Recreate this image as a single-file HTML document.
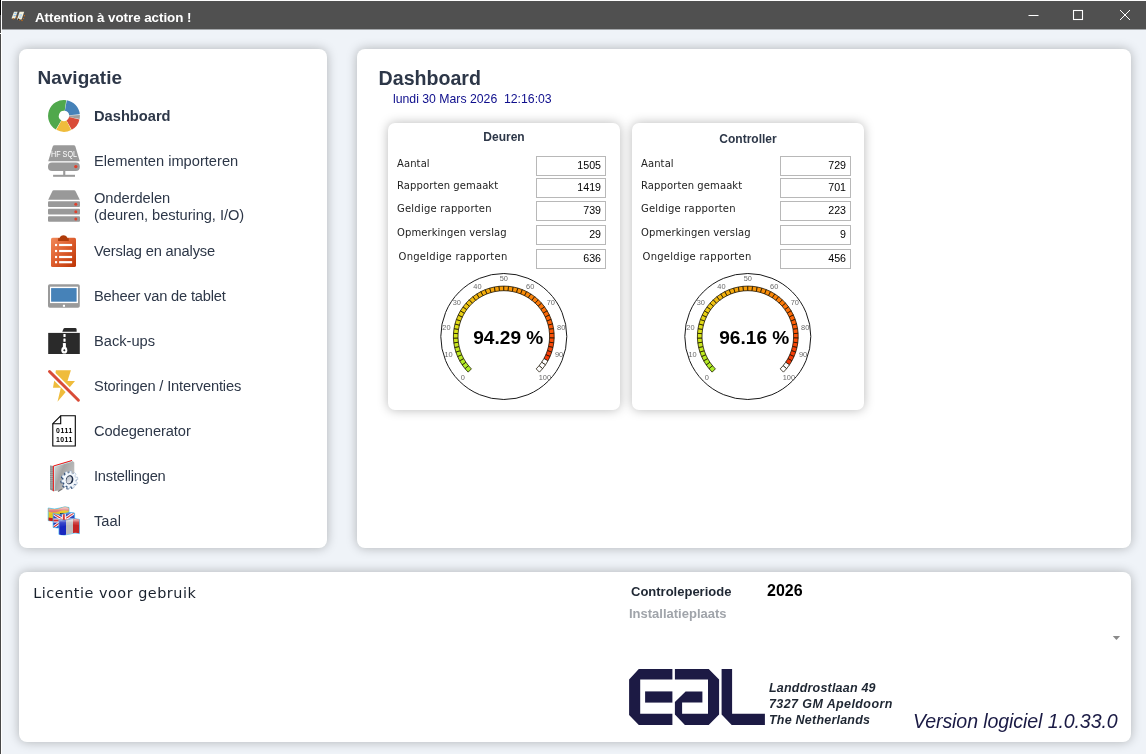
<!DOCTYPE html>
<html lang="nl"><head><meta charset="utf-8"><title>Attention à votre action !</title>
<style>
html,body{margin:0;padding:0}
body{width:1146px;height:754px;overflow:hidden;position:relative;background:#eff3f8;font-family:"Liberation Sans",sans-serif;color:#2d3748}
.abs{position:absolute}
#tb{position:absolute;left:2px;top:1px;width:1144px;height:28px;background:#505050;border-bottom:1px solid #a4a7aa}
#tb .t{position:absolute;left:33px;top:7.6px;font-size:13.4px;font-weight:bold;color:#fff;letter-spacing:-0.05px;line-height:17px;white-space:nowrap}
#lb{position:absolute;left:0;top:0;width:1px;height:754px;background:linear-gradient(#000 0,#000 15px,#484848 15px,#484848 33px,#fff 33px,#fff 34px,#484848 34px)}
#lb2{position:absolute;left:1px;top:0;width:1px;height:754px;background:#fff}
#topl{position:absolute;left:1px;top:0;width:1145px;height:1px;background:#fdfdfd}
.panel{position:absolute;background:#fff;border-radius:8px;box-shadow:0 0 11px 0 rgba(0,0,0,0.27)}
.h1{position:absolute;font-weight:bold;color:#2d3748;white-space:nowrap}
.nv{position:absolute;left:94px;font-size:14.67px;line-height:18px;white-space:nowrap;color:#2d3748}
.nv.b{font-weight:bold}
.ico{position:absolute;overflow:visible}
.card{position:absolute;background:#fff;border-radius:7px;box-shadow:0 0 11px 0 rgba(0,0,0,0.28)}
.ctitle{position:absolute;left:0;width:100%;top:6px;text-align:center;font-size:12px;font-weight:bold;color:#2d3748;line-height:16px}
.lab{position:absolute;font-family:"DejaVu Sans","Liberation Sans",sans-serif;font-size:10px;line-height:15px;color:#222;white-space:nowrap;letter-spacing:0.1px}
.box{position:absolute;width:64px;height:18px;border:1px solid #b8b8b8;background:#fff;font-size:10.67px;line-height:17px;text-align:right;color:#000;box-sizing:content-box;padding-right:4px}
.box{text-indent:0}
.gsvg{position:absolute;left:0;top:0}
.tk,.gv,.hf,.mono{font-family:"Liberation Sans",sans-serif}
.mono{font-family:"Liberation Mono","Liberation Sans",monospace}
</style></head><body>
<div id="lb"></div><div id="lb2"></div><div id="topl"></div>
<div id="tb">
<svg class="abs" style="left:9px;top:9px" width="16" height="12" viewBox="0 0 16 12"><path d="M3 1.8 H6.6 L4.2 8.6 H0.5Z" fill="#f4f1dc"/><path d="M8.6 1.8 H13.2 L10.6 9.6 H6Z" fill="#f4f1dc"/><path d="M3.4 3.4 h2.2 M2.6 5.6 h2.2" stroke="#8cc0f0" stroke-width="1.1"/><path d="M8.4 5 h2.6 M8 7 h2.2" stroke="#8cc0f0" stroke-width="1.1"/><g fill="#c86c14"><circle cx="2.4" cy="8.8" r="0.7"/><circle cx="5.6" cy="7" r="0.7"/><circle cx="8.6" cy="9.8" r="0.7"/><circle cx="11" cy="10.6" r="0.75"/><circle cx="12.5" cy="8.6" r="0.7"/><circle cx="13.4" cy="5.8" r="0.7"/></g><circle cx="7.6" cy="9.3" r="0.7" fill="#101010"/></svg>
<div class="t">Attention à votre action !</div>
<svg class="abs" style="left:1020px;top:0" width="124" height="29" viewBox="0 0 124 29"><path d="M6.5 14.5 H16.5" stroke="#fff" stroke-width="1"/><rect x="51.5" y="9.5" width="9" height="9" fill="none" stroke="#fff" stroke-width="1.1"/><path d="M98 9 L108 19 M108 9 L98 19" stroke="#fff" stroke-width="1"/></svg>
</div>

<div class="panel" style="left:19px;top:49px;width:308px;height:499px"></div>
<div class="panel" style="left:357px;top:49px;width:774px;height:499px"></div>
<div class="panel" style="left:19px;top:572px;width:1112px;height:170px"></div>

<div class="h1" style="left:37.5px;top:67px;font-size:19px;line-height:22px">Navigatie</div>
<svg class="ico" style="left:44px;top:96px" width="40" height="40" viewBox="44 96 40 40"><path d="M55.81 129.53 A15.9 15.9 0 0 1 66.21 100.15 L64.72 110.75 A5.2 5.2 0 0 0 61.32 120.36Z" fill="#50a84c"/><path d="M66.76 100.24 A15.9 15.9 0 0 1 79.81 114.24 L69.17 115.36 A5.2 5.2 0 0 0 64.90 110.78Z" fill="#4682b8"/><path d="M79.87 114.93 A15.9 15.9 0 0 1 79.61 118.93 L69.10 116.89 A5.2 5.2 0 0 0 69.19 115.58Z" fill="#9e9e9e"/><path d="M79.49 119.48 A15.9 15.9 0 0 1 71.71 129.81 L66.52 120.45 A5.2 5.2 0 0 0 69.07 117.07Z" fill="#d94c38"/><path d="M71.22 130.07 A15.9 15.9 0 0 1 56.29 129.81 L61.48 120.45 A5.2 5.2 0 0 0 66.36 120.53Z" fill="#efbc3c"/></svg>
<div class="nv b" style="top:107px;letter-spacing:0px">Dashboard</div>
<svg class="ico" style="left:44px;top:141px" width="40" height="40" viewBox="44 141 40 40"><defs><clipPath id="hfc"><path d="M54.6 145.2 H73.6 Q75 145.2 75.4 146.6 L79.8 161.3 H48.2 L52.7 146.6 Q53.1 145.2 54.6 145.2Z"/></clipPath></defs><path d="M54.6 145.2 H73.6 Q75 145.2 75.4 146.6 L79.8 161.3 H48.2 L52.7 146.6 Q53.1 145.2 54.6 145.2Z" fill="#9a9a9a"/><g clip-path="url(#hfc)"><text x="64" y="156.6" text-anchor="middle" font-size="8.6" fill="#fff" textLength="26" lengthAdjust="spacingAndGlyphs" class="hf">HF SQL</text></g><rect x="48" y="162.5" width="31.8" height="8.4" rx="4" fill="#9a9a9a"/><rect x="63.2" y="170.5" width="2.1" height="4.6" fill="#9a9a9a"/><rect x="53.1" y="174.8" width="21.9" height="2" fill="#9a9a9a"/><circle cx="75.8" cy="166.6" r="1.7" fill="#e0402c"/></svg>
<div class="nv" style="top:152px;letter-spacing:0px">Elementen importeren</div>
<svg class="ico" style="left:44px;top:186px" width="40" height="40" viewBox="44 186 40 40"><path d="M53.8 190.2 H74 Q75.2 190.2 75.7 191.4 L79.8 199.7 H48.2 L52.2 191.4 Q52.6 190.2 53.8 190.2Z" fill="#999"/><rect x="48" y="201.3" width="32" height="5.6" rx="1" fill="#999"/><rect x="48" y="208.8" width="32" height="5.6" rx="1" fill="#999"/><rect x="48" y="216.2" width="32" height="5.6" rx="1" fill="#999"/><circle cx="75.8" cy="204.3" r="1.5" fill="#e0402c"/><circle cx="75.8" cy="211.7" r="1.5" fill="#e0402c"/><circle cx="75.8" cy="219" r="1.5" fill="#e0402c"/></svg>
<div class="nv" style="top:189px;letter-spacing:-0.05px">Onderdelen</div>
<div class="nv" style="top:206px;letter-spacing:-0.06px">(deuren, besturing, I/O)</div>
<svg class="ico" style="left:44px;top:231px" width="40" height="40" viewBox="44 231 40 40"><defs><linearGradient id="cg" x1="0" y1="0" x2="1" y2="1"><stop offset="0" stop-color="#f28a5a"/><stop offset="0.5" stop-color="#dc5c2c"/><stop offset="1" stop-color="#bc3404"/></linearGradient></defs><rect x="51" y="237.7" width="25" height="29.3" rx="1.6" fill="url(#cg)"/><path d="M58.1 241 V238.2 H59.5 A4.2 4.2 0 0 1 67.5 238.2 H68.8 V241Z" fill="#b03c0a"/><rect x="55" y="243.9" width="2.1" height="2.2" fill="#fff"/><rect x="59.1" y="243.9" width="13" height="2.2" fill="#fff"/><rect x="55" y="249.9" width="2.1" height="2.2" fill="#fff"/><rect x="59.1" y="249.9" width="13" height="2.2" fill="#fff"/><rect x="55" y="255.9" width="2.1" height="2.2" fill="#fff"/><rect x="59.1" y="255.9" width="13" height="2.2" fill="#fff"/><rect x="55" y="261.1" width="2.1" height="2.2" fill="#fff"/><rect x="59.1" y="261.1" width="13" height="2.2" fill="#fff"/></svg>
<div class="nv" style="top:242px;letter-spacing:-0.16px">Verslag en analyse</div>
<svg class="ico" style="left:44px;top:276px" width="40" height="40" viewBox="44 276 40 40"><rect x="48" y="284.3" width="31.8" height="23.5" rx="1.8" fill="#9a9a9a"/><rect x="50" y="286.7" width="28" height="16.4" fill="#fff"/><rect x="51.1" y="288.1" width="25.5" height="13.6" fill="#4682b8"/><rect x="62.9" y="304.8" width="2.1" height="2" fill="#fff"/></svg>
<div class="nv" style="top:287px;letter-spacing:-0.18px">Beheer van de tablet</div>
<svg class="ico" style="left:44px;top:321px" width="40" height="40" viewBox="44 321 40 40"><path d="M62.3 331.7 L63.4 329 Q63.8 328.1 64.8 328.1 H75.2 Q76.6 328.1 76.6 329.4 V331.7Z" fill="#2a2a2a"/><rect x="48.2" y="332.9" width="31.6" height="21.1" fill="#2a2a2a"/><rect x="63.4" y="334" width="2.2" height="3" rx="0.5" fill="#fff"/><rect x="63.4" y="338.6" width="2.2" height="3.2" rx="0.5" fill="#fff"/><rect x="62.9" y="343" width="3" height="4.5" rx="0.6" fill="#fff"/><ellipse cx="64.3" cy="350.2" rx="3" ry="3.4" fill="#fff"/><path d="M64.3 348.9 L65.5 350.2 L64.3 351.5 L63.1 350.2Z" fill="#2a2a2a"/></svg>
<div class="nv" style="top:332px;letter-spacing:0px">Back-ups</div>
<svg class="ico" style="left:44px;top:366px" width="40" height="40" viewBox="44 366 40 40"><path d="M55.9 370.2 H70.9 L67.5 381.1 H75 L57.5 401.8 L60.8 387.7 H53Z" fill="#efbc3c"/><path d="M49.5 371.5 L78.4 400.2" stroke="#fff" stroke-width="6.4" stroke-linecap="butt"/><path d="M49.5 371.5 L78.4 400.2" stroke="#d94c38" stroke-width="3" stroke-linecap="round"/></svg>
<div class="nv" style="top:377px;letter-spacing:-0.15px">Storingen / Interventies</div>
<svg class="ico" style="left:44px;top:411px" width="40" height="40" viewBox="44 411 40 40"><path d="M60.7 415.8 H75.3 V446 H52.8 V423.7Z" fill="#fff" stroke="#000" stroke-width="1.1"/><path d="M60.7 415.8 V423.7 H52.8" fill="none" stroke="#000" stroke-width="1.1"/><text x="64.2" y="433.3" text-anchor="middle" font-size="6.9" font-weight="bold" class="hf" textLength="16.2" lengthAdjust="spacing">0111</text><text x="64.2" y="441.7" text-anchor="middle" font-size="6.9" font-weight="bold" class="hf" textLength="16.2" lengthAdjust="spacing">1011</text></svg>
<div class="nv" style="top:422px;letter-spacing:-0.08px">Codegenerator</div>
<svg class="ico" style="left:44px;top:456px" width="40" height="40" viewBox="44 456 40 40"><defs><linearGradient id="sg" x1="0" y1="0" x2="1" y2="0.6"><stop offset="0" stop-color="#e6e6e6"/><stop offset="0.45" stop-color="#a4a4a4"/><stop offset="1" stop-color="#c4c4c4"/></linearGradient><linearGradient id="hg" x1="0" y1="0" x2="1" y2="1"><stop offset="0" stop-color="#b8bcc4"/><stop offset="1" stop-color="#eceef2"/></linearGradient></defs><path d="M53.5 466 L72 460.5 L74.3 462.4 V478 L62 490 L53.5 491.2Z" fill="url(#sg)"/><path d="M50 465.6 L53.5 466 V491.2 L50 489.4Z" fill="#8a8a8a"/><path d="M50 467.0 H53.3" stroke="#b8b8b8" stroke-width="0.7"/><path d="M50 468.9 H53.3" stroke="#b8b8b8" stroke-width="0.7"/><path d="M50 470.8 H53.3" stroke="#b8b8b8" stroke-width="0.7"/><path d="M50 472.7 H53.3" stroke="#b8b8b8" stroke-width="0.7"/><path d="M50 474.6 H53.3" stroke="#b8b8b8" stroke-width="0.7"/><path d="M50 476.5 H53.3" stroke="#b8b8b8" stroke-width="0.7"/><path d="M50 478.4 H53.3" stroke="#b8b8b8" stroke-width="0.7"/><path d="M50 480.3 H53.3" stroke="#b8b8b8" stroke-width="0.7"/><path d="M50 482.2 H53.3" stroke="#b8b8b8" stroke-width="0.7"/><path d="M50 484.1 H53.3" stroke="#b8b8b8" stroke-width="0.7"/><path d="M50 486.0 H53.3" stroke="#b8b8b8" stroke-width="0.7"/><path d="M50 487.9 H53.3" stroke="#b8b8b8" stroke-width="0.7"/><path d="M54.3 490.6 V466.6 L72.2 461.3" fill="none" stroke="#c8f0f4" stroke-width="0.9"/><path d="M53.4 491.2 V466 L72 460.5" fill="none" stroke="#f01818" stroke-width="1"/><path d="M58 491.5 L62 489" stroke="#777" stroke-width="1.2"/><path d="M68.16 473.72 L68.67 471.60 L70.81 471.93 L70.77 474.12 L71.96 474.75 L73.53 473.37 L75.08 475.00 L73.86 476.74 L74.49 478.02 L76.50 477.89 L76.87 480.21 L74.94 480.84 L74.76 482.27 L76.45 483.46 L75.50 485.57 L73.60 484.85 L72.68 485.89 L73.41 487.93 L71.50 489.03 L70.35 487.23 L69.04 487.48 L68.53 489.60 L66.39 489.27 L66.43 487.08 L65.24 486.45 L63.67 487.83 L62.12 486.20 L63.34 484.46 L62.71 483.18 L60.70 483.31 L60.33 480.99 L62.26 480.36 L62.44 478.93 L60.75 477.74 L61.70 475.63 L63.60 476.35 L64.52 475.31 L63.79 473.27 L65.70 472.17 L66.85 473.97Z" fill="#2c4870"/><path d="M69.16 472.92 L69.67 470.80 L71.81 471.13 L71.77 473.32 L72.96 473.95 L74.53 472.57 L76.08 474.20 L74.86 475.94 L75.49 477.22 L77.50 477.09 L77.87 479.41 L75.94 480.04 L75.76 481.47 L77.45 482.66 L76.50 484.77 L74.60 484.05 L73.68 485.09 L74.41 487.13 L72.50 488.23 L71.35 486.43 L70.04 486.68 L69.53 488.80 L67.39 488.47 L67.43 486.28 L66.24 485.65 L64.67 487.03 L63.12 485.40 L64.34 483.66 L63.71 482.38 L61.70 482.51 L61.33 480.19 L63.26 479.56 L63.44 478.13 L61.75 476.94 L62.70 474.83 L64.60 475.55 L65.52 474.51 L64.79 472.47 L66.70 471.37 L67.85 473.17Z" fill="#f2f6fb" stroke="#8fa6c4" stroke-width="0.5"/><ellipse cx="69.6" cy="479.8" rx="3.7" ry="4.6" transform="rotate(15 69.6 479.8)" fill="#1c2c48"/><ellipse cx="69.1" cy="480.0" rx="2.6" ry="3.7" transform="rotate(15 69.6 479.8)" fill="url(#hg)"/></svg>
<div class="nv" style="top:467px;letter-spacing:-0.22px">Instellingen</div>
<svg class="ico" style="left:44px;top:501px" width="40" height="40" viewBox="44 501 40 40"><defs><clipPath id="ukc"><path d="M53.1 513.6 Q60 515.4 65 513.4 Q70 511.6 74.6 513 V526.6 Q69 525 64 527 Q59 529 53.1 527.4Z"/></clipPath><linearGradient id="gl" x1="0" y1="0" x2="0" y2="1"><stop offset="0" stop-color="#fff" stop-opacity="0.75"/><stop offset="0.45" stop-color="#fff" stop-opacity="0.15"/><stop offset="1" stop-color="#fff" stop-opacity="0"/></linearGradient></defs><path d="M48.2 508 Q55 510 60 508 Q65 506 69 507.5 V520 Q64 518.6 59 520.4 Q54 522 48.2 520.6Z" fill="#e6c41c" stroke="#38b8f8" stroke-width="0.7"/><path d="M48.6 508.4 Q55 510.4 60 508.4 Q65 506.4 68.6 507.9 V511 Q64 509.4 59 511.4 Q54 513.2 48.6 511.8Z" fill="#dc6868"/><path d="M48.6 517.6 Q54 519 59 517.4 V520.2 Q54 521.8 48.6 520.4Z" fill="#c41c1c"/><rect x="60" y="513" width="4" height="2.4" fill="#3a2c10"/><path d="M48.6 508.4 Q55 510.4 60 508.4 Q65 506.4 68.6 507.9 V513 Q60 511 48.6 515Z" fill="url(#gl)"/><g clip-path="url(#ukc)"><rect x="53" y="511" width="22" height="19" fill="#2438b4"/><path d="M53 513.5 L74.6 527 M53 527.5 L74.6 512.5" stroke="#fff" stroke-width="3"/><path d="M53 513.5 L74.6 527 M53 527.5 L74.6 512.5" stroke="#d42c2c" stroke-width="1.1"/><path d="M63.8 511 V530 M53 520.4 H75" stroke="#fff" stroke-width="4"/><path d="M63.8 511 V530 M53 520.4 H75" stroke="#d42c2c" stroke-width="2"/><rect x="53" y="511" width="22" height="8" fill="url(#gl)"/></g><path d="M53.1 513.6 Q60 515.4 65 513.4 Q70 511.6 74.6 513 V526.6 Q69 525 64 527 Q59 529 53.1 527.4Z" fill="none" stroke="#38b8f8" stroke-width="0.7"/><path d="M58.9 519.6 Q66 521.4 71 519.4 Q75 518 79.5 519.4 V533.6 Q75 532.2 70 534 Q64 536 58.9 534.4Z" fill="#f0f0f0" stroke="#38b8f8" stroke-width="0.7"/><path d="M59.2 520 Q63 520.8 66 520.4 V534.8 Q62 535.6 59.2 534.2Z" fill="#1828c0"/><path d="M66 520.4 Q70 520.2 73 519 V533 Q70 534.2 66 534.8Z" fill="#bdbdbd"/><path d="M73 519 Q76 518.4 79.2 519.6 V533.2 Q76 532.4 73 533Z" fill="#c42424"/><path d="M59.2 520 Q66 521.6 71 519.6 Q75 518.2 79.2 519.6 V525 Q70 523 59.2 527.4Z" fill="url(#gl)"/></svg>
<div class="nv" style="top:512px;letter-spacing:0px">Taal</div>

<div class="h1" style="left:378.6px;top:66px;font-size:19.6px;line-height:24px">Dashboard</div>
<div class="abs" style="left:393px;top:92px;font-size:12.25px;line-height:14px;color:#0e0e8c;white-space:pre">lundi 30 Mars 2026  12:16:03</div>

<div class="card" style="left:388px;top:123px;width:232px;height:287px">
<div class="ctitle" style="top:6px">Deuren</div>
<div class="lab" style="left:9px;top:33px;letter-spacing:0.1px">Aantal</div>
<div class="box" style="left:148px;top:33px;width:64px">1505</div>
<div class="lab" style="left:9px;top:55px;letter-spacing:0.1px">Rapporten gemaakt</div>
<div class="box" style="left:148px;top:55px;width:64px">1419</div>
<div class="lab" style="left:9px;top:78px;letter-spacing:0.22px">Geldige rapporten</div>
<div class="box" style="left:148px;top:78px;width:64px">739</div>
<div class="lab" style="left:9px;top:102px;letter-spacing:0.1px">Opmerkingen verslag</div>
<div class="box" style="left:148px;top:102px;width:64px">29</div>
<div class="lab" style="left:10.5px;top:126px;letter-spacing:0.27px">Ongeldige rapporten</div>
<div class="box" style="left:148px;top:126px;width:64px">636</div>
<svg class="gsvg" width="232" height="287" viewBox="0 0 232 287">
<circle cx="115.80000000000001" cy="213.5" r="63.0" fill="#fff" stroke="#1a1a1a" stroke-width="1"/>
<path d="M80.16 249.14 L76.97 245.63 L80.51 242.69 L83.41 245.89Z" fill="#aced27" stroke="#181000" stroke-opacity="0.9" stroke-width="0.85"/>
<path d="M76.97 245.63 L74.12 241.83 L77.92 239.24 L80.51 242.69Z" fill="#b0ec25" stroke="#181000" stroke-opacity="0.9" stroke-width="0.85"/>
<path d="M74.12 241.83 L71.63 237.78 L75.67 235.56 L77.92 239.24Z" fill="#b4eb23" stroke="#181000" stroke-opacity="0.9" stroke-width="0.85"/>
<path d="M71.63 237.78 L69.55 233.52 L73.77 231.69 L75.67 235.56Z" fill="#b8ea21" stroke="#181000" stroke-opacity="0.9" stroke-width="0.85"/>
<path d="M69.55 233.52 L67.87 229.07 L72.24 227.65 L73.77 231.69Z" fill="#bce91f" stroke="#181000" stroke-opacity="0.9" stroke-width="0.85"/>
<path d="M67.87 229.07 L66.61 224.49 L71.10 223.49 L72.24 227.65Z" fill="#c1e71d" stroke="#181000" stroke-opacity="0.9" stroke-width="0.85"/>
<path d="M66.61 224.49 L65.80 219.82 L70.36 219.24 L71.10 223.49Z" fill="#c8e61c" stroke="#181000" stroke-opacity="0.9" stroke-width="0.85"/>
<path d="M65.80 219.82 L65.42 215.08 L70.02 214.94 L70.36 219.24Z" fill="#cee51b" stroke="#181000" stroke-opacity="0.9" stroke-width="0.85"/>
<path d="M65.42 215.08 L65.50 210.34 L70.09 210.62 L70.02 214.94Z" fill="#d4e41a" stroke="#181000" stroke-opacity="0.9" stroke-width="0.85"/>
<path d="M65.50 210.34 L66.02 205.62 L70.56 206.34 L70.09 210.62Z" fill="#dbe319" stroke="#181000" stroke-opacity="0.9" stroke-width="0.85"/>
<path d="M66.02 205.62 L66.98 200.97 L71.44 202.11 L70.56 206.34Z" fill="#dfdf17" stroke="#181000" stroke-opacity="0.9" stroke-width="0.85"/>
<path d="M66.98 200.97 L68.38 196.43 L72.71 197.99 L71.44 202.11Z" fill="#e2da16" stroke="#181000" stroke-opacity="0.9" stroke-width="0.85"/>
<path d="M68.38 196.43 L70.20 192.04 L74.36 194.00 L72.71 197.99Z" fill="#e5d515" stroke="#181000" stroke-opacity="0.9" stroke-width="0.85"/>
<path d="M70.20 192.04 L72.42 187.84 L76.38 190.19 L74.36 194.00Z" fill="#e8d014" stroke="#181000" stroke-opacity="0.9" stroke-width="0.85"/>
<path d="M72.42 187.84 L75.03 183.88 L78.75 186.58 L76.38 190.19Z" fill="#ebcb13" stroke="#181000" stroke-opacity="0.9" stroke-width="0.85"/>
<path d="M75.03 183.88 L77.99 180.17 L81.44 183.21 L78.75 186.58Z" fill="#edc611" stroke="#181000" stroke-opacity="0.9" stroke-width="0.85"/>
<path d="M77.99 180.17 L81.30 176.76 L84.45 180.11 L81.44 183.21Z" fill="#eec110" stroke="#181000" stroke-opacity="0.9" stroke-width="0.85"/>
<path d="M81.30 176.76 L84.91 173.68 L87.73 177.31 L84.45 180.11Z" fill="#f0bc0f" stroke="#181000" stroke-opacity="0.9" stroke-width="0.85"/>
<path d="M84.91 173.68 L88.79 170.95 L91.26 174.83 L87.73 177.31Z" fill="#f2b70e" stroke="#181000" stroke-opacity="0.9" stroke-width="0.85"/>
<path d="M88.79 170.95 L92.92 168.59 L95.01 172.69 L91.26 174.83Z" fill="#f3b20d" stroke="#181000" stroke-opacity="0.9" stroke-width="0.85"/>
<path d="M92.92 168.59 L97.25 166.64 L98.94 170.92 L95.01 172.69Z" fill="#f4ae0c" stroke="#181000" stroke-opacity="0.9" stroke-width="0.85"/>
<path d="M97.25 166.64 L101.74 165.10 L103.02 169.52 L98.94 170.92Z" fill="#f5aa0b" stroke="#181000" stroke-opacity="0.9" stroke-width="0.85"/>
<path d="M101.74 165.10 L106.36 163.99 L107.22 168.51 L103.02 169.52Z" fill="#f6a60b" stroke="#181000" stroke-opacity="0.9" stroke-width="0.85"/>
<path d="M106.36 163.99 L111.06 163.32 L111.49 167.90 L107.22 168.51Z" fill="#f7a20b" stroke="#181000" stroke-opacity="0.9" stroke-width="0.85"/>
<path d="M111.06 163.32 L115.80 163.10 L115.80 167.70 L111.49 167.90Z" fill="#f89e0a" stroke="#181000" stroke-opacity="0.9" stroke-width="0.85"/>
<path d="M115.80 163.10 L120.54 163.32 L120.11 167.90 L115.80 167.70Z" fill="#f89a0a" stroke="#181000" stroke-opacity="0.9" stroke-width="0.85"/>
<path d="M120.54 163.32 L125.24 163.99 L124.38 168.51 L120.11 167.90Z" fill="#f99709" stroke="#181000" stroke-opacity="0.9" stroke-width="0.85"/>
<path d="M125.24 163.99 L129.86 165.10 L128.58 169.52 L124.38 168.51Z" fill="#f99309" stroke="#181000" stroke-opacity="0.9" stroke-width="0.85"/>
<path d="M129.86 165.10 L134.35 166.64 L132.66 170.92 L128.58 169.52Z" fill="#f98f09" stroke="#181000" stroke-opacity="0.9" stroke-width="0.85"/>
<path d="M134.35 166.64 L138.68 168.59 L136.59 172.69 L132.66 170.92Z" fill="#fa8c08" stroke="#181000" stroke-opacity="0.9" stroke-width="0.85"/>
<path d="M138.68 168.59 L142.81 170.95 L140.34 174.83 L136.59 172.69Z" fill="#fa8708" stroke="#181000" stroke-opacity="0.9" stroke-width="0.85"/>
<path d="M142.81 170.95 L146.69 173.68 L143.87 177.31 L140.34 174.83Z" fill="#fb8207" stroke="#181000" stroke-opacity="0.9" stroke-width="0.85"/>
<path d="M146.69 173.68 L150.30 176.76 L147.15 180.11 L143.87 177.31Z" fill="#fb7d07" stroke="#181000" stroke-opacity="0.9" stroke-width="0.85"/>
<path d="M150.30 176.76 L153.61 180.17 L150.16 183.21 L147.15 180.11Z" fill="#fb7807" stroke="#181000" stroke-opacity="0.9" stroke-width="0.85"/>
<path d="M153.61 180.17 L156.57 183.88 L152.85 186.58 L150.16 183.21Z" fill="#fc7306" stroke="#181000" stroke-opacity="0.9" stroke-width="0.85"/>
<path d="M156.57 183.88 L159.18 187.84 L155.22 190.19 L152.85 186.58Z" fill="#fc6e06" stroke="#181000" stroke-opacity="0.9" stroke-width="0.85"/>
<path d="M159.18 187.84 L161.40 192.04 L157.24 194.00 L155.22 190.19Z" fill="#fc6906" stroke="#181000" stroke-opacity="0.9" stroke-width="0.85"/>
<path d="M161.40 192.04 L163.22 196.43 L158.89 197.99 L157.24 194.00Z" fill="#fc6406" stroke="#181000" stroke-opacity="0.9" stroke-width="0.85"/>
<path d="M163.22 196.43 L164.62 200.97 L160.16 202.11 L158.89 197.99Z" fill="#fc5f06" stroke="#181000" stroke-opacity="0.9" stroke-width="0.85"/>
<path d="M164.62 200.97 L165.58 205.62 L161.04 206.34 L160.16 202.11Z" fill="#fc5a06" stroke="#181000" stroke-opacity="0.9" stroke-width="0.85"/>
<path d="M165.58 205.62 L166.10 210.34 L161.51 210.62 L161.04 206.34Z" fill="#fc5606" stroke="#181000" stroke-opacity="0.9" stroke-width="0.85"/>
<path d="M166.10 210.34 L166.18 215.08 L161.58 214.94 L161.51 210.62Z" fill="#fb5107" stroke="#181000" stroke-opacity="0.9" stroke-width="0.85"/>
<path d="M166.18 215.08 L165.80 219.82 L161.24 219.24 L161.58 214.94Z" fill="#fa4c07" stroke="#181000" stroke-opacity="0.9" stroke-width="0.85"/>
<path d="M165.80 219.82 L164.99 224.49 L160.50 223.49 L161.24 219.24Z" fill="#f94707" stroke="#181000" stroke-opacity="0.9" stroke-width="0.85"/>
<path d="M164.99 224.49 L163.73 229.07 L159.36 227.65 L160.50 223.49Z" fill="#f84208" stroke="#181000" stroke-opacity="0.9" stroke-width="0.85"/>
<path d="M163.73 229.07 L162.05 233.52 L157.83 231.69 L159.36 227.65Z" fill="#f73e08" stroke="#181000" stroke-opacity="0.9" stroke-width="0.85"/>
<path d="M162.05 233.52 L159.97 237.78 L155.93 235.56 L157.83 231.69Z" fill="#f63b09" stroke="#181000" stroke-opacity="0.9" stroke-width="0.85"/>
<path d="M159.97 237.78 L157.48 241.83 L153.68 239.24 L155.93 235.56Z" fill="#ffffff" stroke="#181000" stroke-opacity="0.9" stroke-width="0.85"/>
<path d="M157.48 241.83 L154.63 245.63 L151.09 242.69 L153.68 239.24Z" fill="#ffffff" stroke="#181000" stroke-opacity="0.9" stroke-width="0.85"/>
<path d="M154.63 245.63 L151.44 249.14 L148.19 245.89 L151.09 242.69Z" fill="#ffffff" stroke="#181000" stroke-opacity="0.9" stroke-width="0.85"/>
<text x="74.7" y="257.3" text-anchor="middle" font-size="7.4" fill="#6a6a6a" class="tk">0</text>
<text x="60.5" y="234.2" text-anchor="middle" font-size="7.4" fill="#6a6a6a" class="tk">10</text>
<text x="58.4" y="207.1" text-anchor="middle" font-size="7.4" fill="#6a6a6a" class="tk">20</text>
<text x="68.8" y="182.0" text-anchor="middle" font-size="7.4" fill="#6a6a6a" class="tk">30</text>
<text x="89.4" y="165.7" text-anchor="middle" font-size="7.4" fill="#6a6a6a" class="tk">40</text>
<text x="115.8" y="158.1" text-anchor="middle" font-size="7.4" fill="#6a6a6a" class="tk">50</text>
<text x="142.2" y="165.7" text-anchor="middle" font-size="7.4" fill="#6a6a6a" class="tk">60</text>
<text x="162.8" y="182.0" text-anchor="middle" font-size="7.4" fill="#6a6a6a" class="tk">70</text>
<text x="173.2" y="207.1" text-anchor="middle" font-size="7.4" fill="#6a6a6a" class="tk">80</text>
<text x="171.1" y="234.2" text-anchor="middle" font-size="7.4" fill="#6a6a6a" class="tk">90</text>
<text x="156.9" y="257.3" text-anchor="middle" font-size="7.4" fill="#6a6a6a" class="tk">100</text>
<text x="120.30000000000001" y="221.1" text-anchor="middle" font-size="19.1" font-weight="bold" fill="#000" class="gv">94.29 %</text>
</svg>
</div>
<div class="card" style="left:632px;top:123px;width:232px;height:287px">
<div class="ctitle" style="top:8px">Controller</div>
<div class="lab" style="left:9px;top:33px;letter-spacing:0.1px">Aantal</div>
<div class="box" style="left:148px;top:33px;width:65px">729</div>
<div class="lab" style="left:9px;top:55px;letter-spacing:0.1px">Rapporten gemaakt</div>
<div class="box" style="left:148px;top:55px;width:65px">701</div>
<div class="lab" style="left:9px;top:78px;letter-spacing:0.22px">Geldige rapporten</div>
<div class="box" style="left:148px;top:78px;width:65px">223</div>
<div class="lab" style="left:9px;top:102px;letter-spacing:0.1px">Opmerkingen verslag</div>
<div class="box" style="left:148px;top:102px;width:65px">9</div>
<div class="lab" style="left:10.5px;top:126px;letter-spacing:0.27px">Ongeldige rapporten</div>
<div class="box" style="left:148px;top:126px;width:65px">456</div>
<svg class="gsvg" width="232" height="287" viewBox="0 0 232 287">
<circle cx="115.80000000000001" cy="213.5" r="63.0" fill="#fff" stroke="#1a1a1a" stroke-width="1"/>
<path d="M80.16 249.14 L76.97 245.63 L80.51 242.69 L83.41 245.89Z" fill="#aced27" stroke="#181000" stroke-opacity="0.9" stroke-width="0.85"/>
<path d="M76.97 245.63 L74.12 241.83 L77.92 239.24 L80.51 242.69Z" fill="#b0ec25" stroke="#181000" stroke-opacity="0.9" stroke-width="0.85"/>
<path d="M74.12 241.83 L71.63 237.78 L75.67 235.56 L77.92 239.24Z" fill="#b4eb23" stroke="#181000" stroke-opacity="0.9" stroke-width="0.85"/>
<path d="M71.63 237.78 L69.55 233.52 L73.77 231.69 L75.67 235.56Z" fill="#b8ea21" stroke="#181000" stroke-opacity="0.9" stroke-width="0.85"/>
<path d="M69.55 233.52 L67.87 229.07 L72.24 227.65 L73.77 231.69Z" fill="#bce91f" stroke="#181000" stroke-opacity="0.9" stroke-width="0.85"/>
<path d="M67.87 229.07 L66.61 224.49 L71.10 223.49 L72.24 227.65Z" fill="#c1e71d" stroke="#181000" stroke-opacity="0.9" stroke-width="0.85"/>
<path d="M66.61 224.49 L65.80 219.82 L70.36 219.24 L71.10 223.49Z" fill="#c8e61c" stroke="#181000" stroke-opacity="0.9" stroke-width="0.85"/>
<path d="M65.80 219.82 L65.42 215.08 L70.02 214.94 L70.36 219.24Z" fill="#cee51b" stroke="#181000" stroke-opacity="0.9" stroke-width="0.85"/>
<path d="M65.42 215.08 L65.50 210.34 L70.09 210.62 L70.02 214.94Z" fill="#d4e41a" stroke="#181000" stroke-opacity="0.9" stroke-width="0.85"/>
<path d="M65.50 210.34 L66.02 205.62 L70.56 206.34 L70.09 210.62Z" fill="#dbe319" stroke="#181000" stroke-opacity="0.9" stroke-width="0.85"/>
<path d="M66.02 205.62 L66.98 200.97 L71.44 202.11 L70.56 206.34Z" fill="#dfdf17" stroke="#181000" stroke-opacity="0.9" stroke-width="0.85"/>
<path d="M66.98 200.97 L68.38 196.43 L72.71 197.99 L71.44 202.11Z" fill="#e2da16" stroke="#181000" stroke-opacity="0.9" stroke-width="0.85"/>
<path d="M68.38 196.43 L70.20 192.04 L74.36 194.00 L72.71 197.99Z" fill="#e5d515" stroke="#181000" stroke-opacity="0.9" stroke-width="0.85"/>
<path d="M70.20 192.04 L72.42 187.84 L76.38 190.19 L74.36 194.00Z" fill="#e8d014" stroke="#181000" stroke-opacity="0.9" stroke-width="0.85"/>
<path d="M72.42 187.84 L75.03 183.88 L78.75 186.58 L76.38 190.19Z" fill="#ebcb13" stroke="#181000" stroke-opacity="0.9" stroke-width="0.85"/>
<path d="M75.03 183.88 L77.99 180.17 L81.44 183.21 L78.75 186.58Z" fill="#edc611" stroke="#181000" stroke-opacity="0.9" stroke-width="0.85"/>
<path d="M77.99 180.17 L81.30 176.76 L84.45 180.11 L81.44 183.21Z" fill="#eec110" stroke="#181000" stroke-opacity="0.9" stroke-width="0.85"/>
<path d="M81.30 176.76 L84.91 173.68 L87.73 177.31 L84.45 180.11Z" fill="#f0bc0f" stroke="#181000" stroke-opacity="0.9" stroke-width="0.85"/>
<path d="M84.91 173.68 L88.79 170.95 L91.26 174.83 L87.73 177.31Z" fill="#f2b70e" stroke="#181000" stroke-opacity="0.9" stroke-width="0.85"/>
<path d="M88.79 170.95 L92.92 168.59 L95.01 172.69 L91.26 174.83Z" fill="#f3b20d" stroke="#181000" stroke-opacity="0.9" stroke-width="0.85"/>
<path d="M92.92 168.59 L97.25 166.64 L98.94 170.92 L95.01 172.69Z" fill="#f4ae0c" stroke="#181000" stroke-opacity="0.9" stroke-width="0.85"/>
<path d="M97.25 166.64 L101.74 165.10 L103.02 169.52 L98.94 170.92Z" fill="#f5aa0b" stroke="#181000" stroke-opacity="0.9" stroke-width="0.85"/>
<path d="M101.74 165.10 L106.36 163.99 L107.22 168.51 L103.02 169.52Z" fill="#f6a60b" stroke="#181000" stroke-opacity="0.9" stroke-width="0.85"/>
<path d="M106.36 163.99 L111.06 163.32 L111.49 167.90 L107.22 168.51Z" fill="#f7a20b" stroke="#181000" stroke-opacity="0.9" stroke-width="0.85"/>
<path d="M111.06 163.32 L115.80 163.10 L115.80 167.70 L111.49 167.90Z" fill="#f89e0a" stroke="#181000" stroke-opacity="0.9" stroke-width="0.85"/>
<path d="M115.80 163.10 L120.54 163.32 L120.11 167.90 L115.80 167.70Z" fill="#f89a0a" stroke="#181000" stroke-opacity="0.9" stroke-width="0.85"/>
<path d="M120.54 163.32 L125.24 163.99 L124.38 168.51 L120.11 167.90Z" fill="#f99709" stroke="#181000" stroke-opacity="0.9" stroke-width="0.85"/>
<path d="M125.24 163.99 L129.86 165.10 L128.58 169.52 L124.38 168.51Z" fill="#f99309" stroke="#181000" stroke-opacity="0.9" stroke-width="0.85"/>
<path d="M129.86 165.10 L134.35 166.64 L132.66 170.92 L128.58 169.52Z" fill="#f98f09" stroke="#181000" stroke-opacity="0.9" stroke-width="0.85"/>
<path d="M134.35 166.64 L138.68 168.59 L136.59 172.69 L132.66 170.92Z" fill="#fa8c08" stroke="#181000" stroke-opacity="0.9" stroke-width="0.85"/>
<path d="M138.68 168.59 L142.81 170.95 L140.34 174.83 L136.59 172.69Z" fill="#fa8708" stroke="#181000" stroke-opacity="0.9" stroke-width="0.85"/>
<path d="M142.81 170.95 L146.69 173.68 L143.87 177.31 L140.34 174.83Z" fill="#fb8207" stroke="#181000" stroke-opacity="0.9" stroke-width="0.85"/>
<path d="M146.69 173.68 L150.30 176.76 L147.15 180.11 L143.87 177.31Z" fill="#fb7d07" stroke="#181000" stroke-opacity="0.9" stroke-width="0.85"/>
<path d="M150.30 176.76 L153.61 180.17 L150.16 183.21 L147.15 180.11Z" fill="#fb7807" stroke="#181000" stroke-opacity="0.9" stroke-width="0.85"/>
<path d="M153.61 180.17 L156.57 183.88 L152.85 186.58 L150.16 183.21Z" fill="#fc7306" stroke="#181000" stroke-opacity="0.9" stroke-width="0.85"/>
<path d="M156.57 183.88 L159.18 187.84 L155.22 190.19 L152.85 186.58Z" fill="#fc6e06" stroke="#181000" stroke-opacity="0.9" stroke-width="0.85"/>
<path d="M159.18 187.84 L161.40 192.04 L157.24 194.00 L155.22 190.19Z" fill="#fc6906" stroke="#181000" stroke-opacity="0.9" stroke-width="0.85"/>
<path d="M161.40 192.04 L163.22 196.43 L158.89 197.99 L157.24 194.00Z" fill="#fc6406" stroke="#181000" stroke-opacity="0.9" stroke-width="0.85"/>
<path d="M163.22 196.43 L164.62 200.97 L160.16 202.11 L158.89 197.99Z" fill="#fc5f06" stroke="#181000" stroke-opacity="0.9" stroke-width="0.85"/>
<path d="M164.62 200.97 L165.58 205.62 L161.04 206.34 L160.16 202.11Z" fill="#fc5a06" stroke="#181000" stroke-opacity="0.9" stroke-width="0.85"/>
<path d="M165.58 205.62 L166.10 210.34 L161.51 210.62 L161.04 206.34Z" fill="#fc5606" stroke="#181000" stroke-opacity="0.9" stroke-width="0.85"/>
<path d="M166.10 210.34 L166.18 215.08 L161.58 214.94 L161.51 210.62Z" fill="#fb5107" stroke="#181000" stroke-opacity="0.9" stroke-width="0.85"/>
<path d="M166.18 215.08 L165.80 219.82 L161.24 219.24 L161.58 214.94Z" fill="#fa4c07" stroke="#181000" stroke-opacity="0.9" stroke-width="0.85"/>
<path d="M165.80 219.82 L164.99 224.49 L160.50 223.49 L161.24 219.24Z" fill="#f94707" stroke="#181000" stroke-opacity="0.9" stroke-width="0.85"/>
<path d="M164.99 224.49 L163.73 229.07 L159.36 227.65 L160.50 223.49Z" fill="#f84208" stroke="#181000" stroke-opacity="0.9" stroke-width="0.85"/>
<path d="M163.73 229.07 L162.05 233.52 L157.83 231.69 L159.36 227.65Z" fill="#f73e08" stroke="#181000" stroke-opacity="0.9" stroke-width="0.85"/>
<path d="M162.05 233.52 L159.97 237.78 L155.93 235.56 L157.83 231.69Z" fill="#f63b09" stroke="#181000" stroke-opacity="0.9" stroke-width="0.85"/>
<path d="M159.97 237.78 L157.48 241.83 L153.68 239.24 L155.93 235.56Z" fill="#f43809" stroke="#181000" stroke-opacity="0.9" stroke-width="0.85"/>
<path d="M157.48 241.83 L154.63 245.63 L151.09 242.69 L153.68 239.24Z" fill="#ffffff" stroke="#181000" stroke-opacity="0.9" stroke-width="0.85"/>
<path d="M154.63 245.63 L151.44 249.14 L148.19 245.89 L151.09 242.69Z" fill="#ffffff" stroke="#181000" stroke-opacity="0.9" stroke-width="0.85"/>
<text x="74.7" y="257.3" text-anchor="middle" font-size="7.4" fill="#6a6a6a" class="tk">0</text>
<text x="60.5" y="234.2" text-anchor="middle" font-size="7.4" fill="#6a6a6a" class="tk">10</text>
<text x="58.4" y="207.1" text-anchor="middle" font-size="7.4" fill="#6a6a6a" class="tk">20</text>
<text x="68.8" y="182.0" text-anchor="middle" font-size="7.4" fill="#6a6a6a" class="tk">30</text>
<text x="89.4" y="165.7" text-anchor="middle" font-size="7.4" fill="#6a6a6a" class="tk">40</text>
<text x="115.8" y="158.1" text-anchor="middle" font-size="7.4" fill="#6a6a6a" class="tk">50</text>
<text x="142.2" y="165.7" text-anchor="middle" font-size="7.4" fill="#6a6a6a" class="tk">60</text>
<text x="162.8" y="182.0" text-anchor="middle" font-size="7.4" fill="#6a6a6a" class="tk">70</text>
<text x="173.2" y="207.1" text-anchor="middle" font-size="7.4" fill="#6a6a6a" class="tk">80</text>
<text x="171.1" y="234.2" text-anchor="middle" font-size="7.4" fill="#6a6a6a" class="tk">90</text>
<text x="156.9" y="257.3" text-anchor="middle" font-size="7.4" fill="#6a6a6a" class="tk">100</text>
<text x="122.30000000000001" y="221.1" text-anchor="middle" font-size="19.1" font-weight="bold" fill="#000" class="gv">96.16 %</text>
</svg>
</div>

<div class="abs" style="left:33.3px;top:583px;font-family:'DejaVu Sans','Liberation Sans',sans-serif;font-size:14.4px;line-height:20px;color:#18202c;letter-spacing:0.52px;white-space:nowrap">Licentie voor gebruik</div>
<div class="abs" style="left:631px;top:584px;font-size:13px;font-weight:bold;line-height:16px;color:#1f2733;white-space:nowrap">Controleperiode</div>
<div class="abs" style="left:767px;top:582px;font-size:16px;font-weight:bold;line-height:18px;color:#000;white-space:nowrap">2026</div>
<div class="abs" style="left:629px;top:606px;font-size:13px;font-weight:bold;line-height:16px;color:#a0a4aa;white-space:nowrap">Installatieplaats</div>
<svg class="abs" style="left:1111px;top:634px" width="11" height="8" viewBox="0 0 11 8"><path d="M1.8 2 H9.1 L5.45 6Z" fill="#8a8a8a"/></svg>

<svg class="abs" style="left:627px;top:666px" width="142" height="62" viewBox="627 666 142 62">
<g fill="#1c1a44"><path d="M638.8 669.1 L672.4 669.1 L672.4 679.5 L640.2 679.5 L640.2 713.8 L672.4 713.8 L672.4 724.9 L638.8 724.9 L629.1 715.1 L629.1 679.5Z"/><path d="M645.1 691.4 L672.4 691.4 L672.4 702.6 L645.1 702.6Z"/><path d="M674.9 669.1 L708.7 669.1 L719.1 679.5 L719.1 714.5 L708.7 724.9 L684.9 724.9 L674.9 714.5 L674.9 701.9 L685.6 691.4 L702.4 691.4 L702.4 702.6 L682.1 702.6 L682.1 713.8 L708.0 713.8 L708.0 679.5 L674.9 679.5Z"/><path d="M721.6 669.1 L732.1 669.1 L732.1 713.8 L764.9 713.8 L764.9 724.9 L731.7 724.9 L721.6 714.5Z"/></g></svg>
<div class="abs" style="left:769px;top:680px;font-size:12.5px;font-weight:bold;font-style:italic;line-height:16px;color:#1f2733;white-space:nowrap;letter-spacing:0.4px"><span style="letter-spacing:0.2px">Landdrostlaan 49</span><br>7327 GM Apeldoorn<br><span style="letter-spacing:0.22px">The Netherlands</span></div>
<div class="abs" style="left:913px;top:709px;font-size:19.6px;font-style:italic;line-height:24px;color:#1a1a44;white-space:nowrap;letter-spacing:-0.11px">Version logiciel 1.0.33.0</div>
</body></html>
